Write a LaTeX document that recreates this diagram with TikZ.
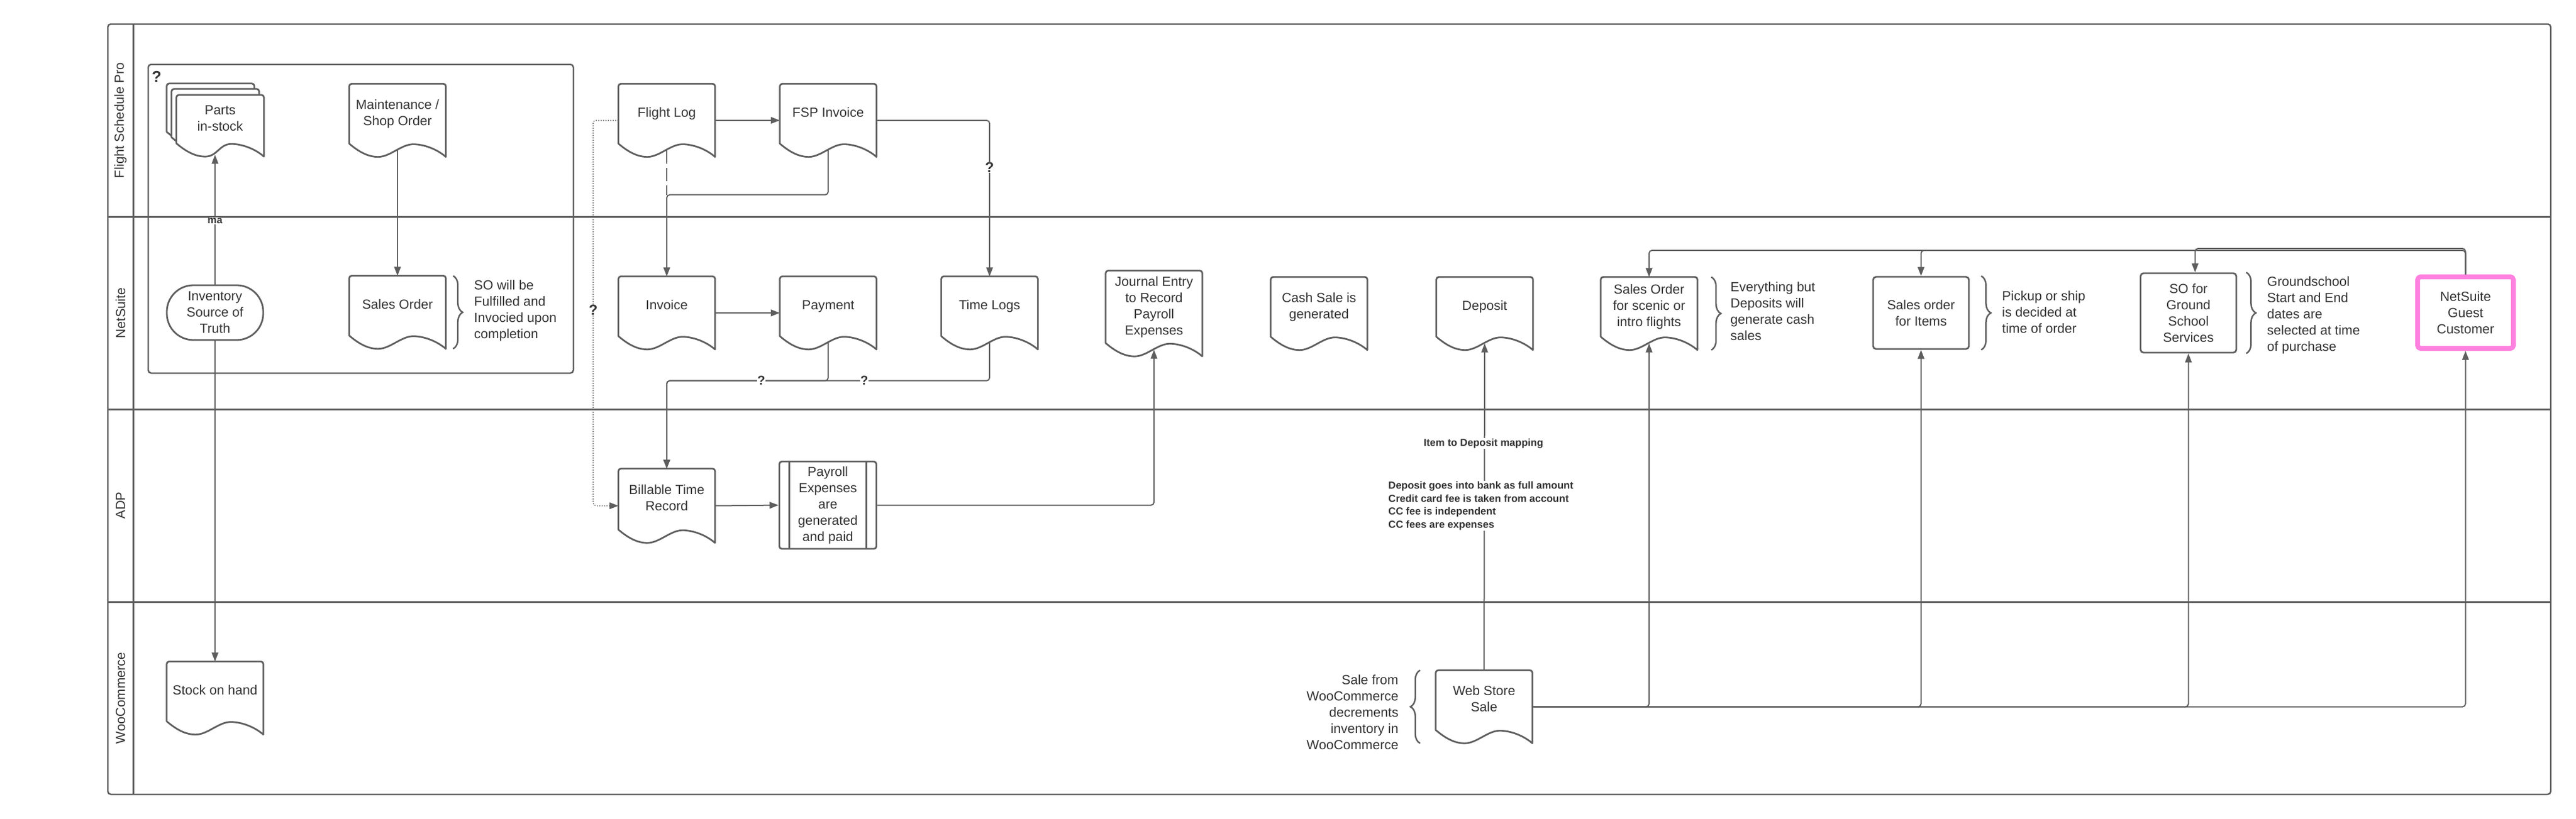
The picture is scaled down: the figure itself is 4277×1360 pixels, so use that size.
\documentclass[tikz,border=0pt]{standalone}
\usepackage{fontspec}
\setmainfont{Liberation Sans}
\usetikzlibrary{arrows.meta,backgrounds,decorations.pathreplacing,calc}
\definecolor{linegray}{RGB}{94,94,94}
\definecolor{textgray}{RGB}{51,51,51}
\definecolor{guestpink}{RGB}{255,128,223}
\tikzset{
  every node/.style={text=textgray, font=\fontsize{22}{27}\selectfont},
  lane/.style={draw=linegray, line width=3pt},
  shapeline/.style={draw=linegray, line width=2.8pt, line join=round},
  doc/.style={minimum width=160pt, minimum height=121pt, inner sep=0pt, text depth=26pt, align=center},
  proc/.style={shapeline, rounded corners=5pt, minimum width=159pt, minimum height=120pt, inner sep=2pt, align=center},
  term/.style={shapeline, rounded corners=44pt, minimum width=160pt, minimum height=91pt, align=center},
  flow/.style={draw=linegray, line width=2pt, rounded corners=5pt, -{Triangle[length=15pt,width=11pt]}},
  link/.style={draw=linegray, line width=2pt},
  note/.style={inner sep=0pt, align=left},
  tag/.style={font=\bfseries\fontsize{17}{21.5}\selectfont, fill=white, inner sep=1pt},
  qmark/.style={font=\bfseries\fontsize{24}{24}\selectfont, fill=white, inner sep=1pt},
  curly/.style={draw=linegray, line width=2.5pt, decorate, decoration={brace, amplitude=16pt}},
}
\begin{document}
\begin{tikzpicture}[x=1pt, y=-1pt]
\useasboundingbox (0,0) rectangle (4277,1360);
% swimlanes
\draw[lane, line width=2.5pt, rounded corners=5pt] (179,40) rectangle (4235,1320);
\draw[lane] (221,40) -- (221,1320);
\foreach \y in {360,680,1000} \draw[lane] (179,\y) -- (4235,\y);
\node[rotate=90] (lnfsp) at (200,200) {Flight Schedule Pro};
\node[rotate=90] (lnns) at (200,520) {NetSuite};
\node[rotate=90] (lnadp) at (200,840) {ADP};
\node[rotate=90] (lnwoo) at (200,1160) {WooCommerce};

% inventory group
\draw[link, line width=2.5pt, rounded corners=5pt] (246,107) rectangle (952,620);
\node[qmark, font=\bfseries\fontsize{26}{26}\selectfont] (q0) at (260,127) {?};
\node[doc, minimum width=145pt, minimum height=102pt] (parts3) at (349.5,190) {};
\node[doc, minimum width=145pt, minimum height=102pt] (parts2) at (357.5,199) {};
\node[doc, minimum width=145pt, minimum height=102pt] (parts) at (365.5,209) {Parts\\in-stock};
\node[doc] (maint) at (660,200) {Maintenance /\\Shop Order};
\node[term] (invsrc) at (357,519.5) {Inventory\\Source of\\Truth};
\node[doc] (so) at (660,519) {Sales Order};
\node[note, anchor=west] (sonote) at (787,516) {SO will be\\Fulfilled and\\Invocied upon\\completion};
\node[doc] (stock) at (357,1160) {Stock on hand};

% flight / billing
\node[doc] (flog) at (1107,200) {Flight Log};
\node[doc] (fspinv) at (1375,200) {FSP Invoice};
\node[doc] (inv) at (1107,520) {Invoice};
\node[doc] (pay) at (1375,520) {Payment};
\node[doc] (tlog) at (1643,520) {Time Logs};
\node[doc, minimum height=142pt] (jrnl) at (1916,521) {Journal Entry\\to Record\\Payroll\\Expenses};
\node[doc, minimum height=123pt] (bill) at (1107,840.5) {Billable Time\\Record};
\node[proc, rounded corners=4pt, minimum width=161pt, minimum height=145pt] (payroll) at (1374.5,839.5) {Payroll\\Expenses\\are\\generated\\and paid};
\draw[shapeline] ([xshift=18pt]payroll.north west) -- ([xshift=18pt]payroll.south west);
\draw[shapeline] ([xshift=-18pt]payroll.north east) -- ([xshift=-18pt]payroll.south east);

% web store sales
\node[doc] (cash) at (2190,521) {Cash Sale is\\generated};
\node[doc] (dep) at (2465,521) {Deposit};
\node[doc] (soscen) at (2738,521) {Sales Order\\for scenic or\\intro flights};
\node[note, anchor=west] (scennote) at (2873,517) {Everything but\\Deposits will\\generate cash\\sales};
\node[proc] (soitem) at (3189.5,520) {Sales order\\for Items};
\node[note, anchor=west] (itemnote) at (3324,519) {Pickup or ship\\is decided at\\time of order};
\node[proc, minimum height=132pt] (sognd) at (3633.5,520) {SO for\\Ground\\School\\Services};
\node[note, anchor=west] (gndnote) at (3764,524) {Groundschool\\Start and End\\dates are\\selected at time\\of purchase};
\node[proc, draw=guestpink, line width=8pt, minimum height=119pt] (guest) at (4093.5,519.5) {NetSuite\\Guest\\Customer};
\node[doc] (web) at (2464,1174.5) {Web Store\\Sale};
\node[note, anchor=east, align=right] (webnote) at (2322,1184) {Sale from\\WooCommerce\\decrements\\inventory in\\WooCommerce};

% document outlines
\begin{scope}[on background layer]
  \foreach \n in {parts3,parts2,parts,maint,so,stock,flog,fspinv,inv,pay,tlog,jrnl,bill,cash,dep,soscen,web} {
    \draw[shapeline, fill=white, line cap=round] ([yshift=22pt]\n.south west) [rounded corners=4pt] -- (\n.north west) -- (\n.north east) [sharp corners] -- (\n.south east)
      .. controls +(-16pt,14pt) and +(16pt,0pt) .. ([shift={(-54pt,21pt)}]\n.south east)
      .. controls +(-20pt,0pt) and +(20pt,0pt) .. ([xshift=48pt]\n.south west)
      .. controls +(-20pt,0pt) and +(12pt,-10pt) .. ([yshift=22pt]\n.south west);
    \coordinate (\n-b) at ([yshift=11pt]\n.south);
  }
\end{scope}

% braces
\draw[curly] ([xshift=12pt]so.north east) -- ([xshift=12pt]so.south east);
\draw[curly] ([xshift=23pt]soscen.north east) -- ([xshift=23pt]soscen.south east);
\draw[curly] ([xshift=19pt]soitem.north east) -- ([xshift=19pt]soitem.south east);
\draw[curly] ([xshift=15pt]sognd.north east) -- ([xshift=15pt]sognd.south east);
\draw[curly] ([xshift=-26pt]web.south west) -- ([xshift=-26pt]web.north west);

% connectors
\draw[flow] (invsrc.north) -- node[tag, pos=0.49] (ma) {ma} ($(invsrc.north |- parts.south)+(0,-3)$);
\draw[flow] (invsrc.south) -- (stock.north);
\draw[flow] (maint-b) -- (so.north);
\draw[flow] (flog.east) -- (fspinv.west);
\draw[flow, line width=1.5pt, dash pattern=on 1.5pt off 2.5pt] (flog.west) -- ++(-42,0) |- (bill.west);
\draw[link, dash pattern=on 22pt off 7pt] (flog-b) -- ++(0,74);
\draw[flow] (fspinv-b) -- ++(0,74) -| (inv.north);
\draw[flow] (fspinv.east) -| (tlog.north);
\draw[flow] (inv.east) -- (pay.west);
\draw[flow] (pay-b) -- ++(0,63) -| (bill.north);
\draw[flow] (tlog-b) -- ++(0,63) -| (bill.north);
\draw[flow] (bill.east) -- (payroll.west);
\draw[flow] (payroll.east) -| (jrnl-b);
\draw[flow] (web.north) -- (dep-b);
\draw[flow] (web.east) -| (soscen-b);
\draw[flow] (web.east) -| (soitem.south);
\draw[flow] (web.east) -| (sognd.south);
\draw[flow] (web.east) -| (guest.south);
\draw[flow] (guest.north) -- ++(0,-40) -| (soscen.north);
\draw[flow] (guest.north) -- ++(0,-40) -| (soitem.north);
\draw[flow] (guest.north) -- ++(0,-43) -| ([xshift=11pt]sognd.north);

% labels on connectors
\node[qmark] (q1) at (985,515) {?};
\node[qmark] (q2) at (1643,278) {?};
\node[qmark, font=\bfseries\fontsize{21}{21}\selectfont] (q3) at (1264,632) {?};
\node[qmark, font=\bfseries\fontsize{21}{21}\selectfont] (q4) at (1435,632) {?};
\node[tag] (map) at (2463,737) {Item to Deposit mapping};
\node[tag, anchor=west, align=left] (fees) at (2304,840.5) {Deposit goes into bank as full amount\\Credit card fee is taken from account\\CC fee is independent\\CC fees are expenses};
\end{tikzpicture}
\end{document}
